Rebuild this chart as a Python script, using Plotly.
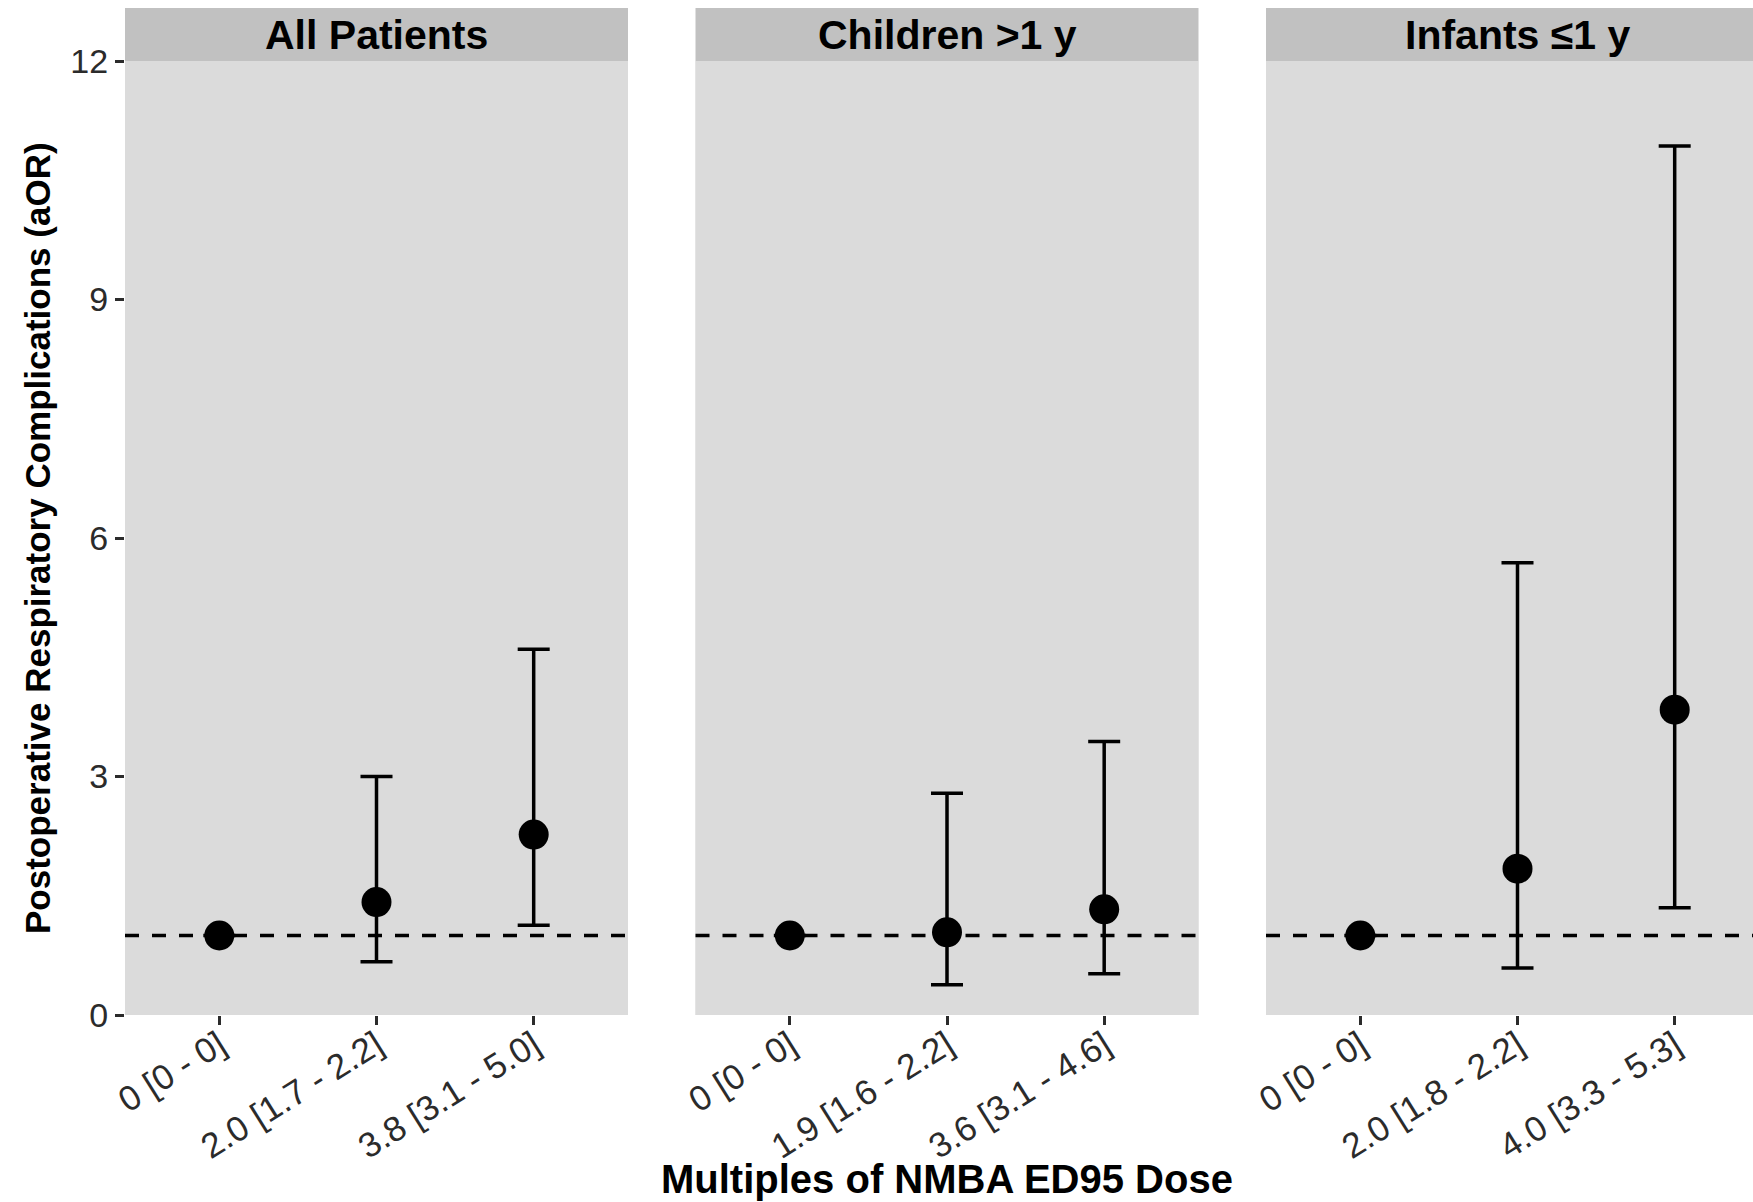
import plotly.graph_objects as go

# ---- data ----
panels = ["All Patients", "Children >1 y", "Infants \u22641 y"]
labels_all = ["0 [0 - 0]", "2.0 [1.7 - 2.2]", "3.8 [3.1 - 5.0]"]
labels_children = ["0 [0 - 0]", "1.9 [1.6 - 2.2]", "3.6 [3.1 - 4.6]"]
labels_infants = ["0 [0 - 0]", "2.0 [1.8 - 2.2]", "4.0 [3.3 - 5.3]"]

aor_all = [1.0, 1.42, 2.27]
lo_all = [1.0, 0.67, 1.13]
hi_all = [1.0, 3.00, 4.60]

aor_children = [1.0, 1.04, 1.33]
lo_children = [1.0, 0.38, 0.52]
hi_children = [1.0, 2.79, 3.44]

aor_infants = [1.0, 1.84, 3.84]
lo_infants = [1.0, 0.59, 1.35]
hi_infants = [1.0, 5.69, 10.93]

y_ticks = [0, 3, 6, 9, 12]
reference_line = 1.0

series = [
    (labels_all, aor_all, lo_all, hi_all),
    (labels_children, aor_children, lo_children, hi_children),
    (labels_infants, aor_infants, lo_infants, hi_infants),
]

# ---- layout geometry (pixels) ----
W, H = 1753, 1202
left, top, bottom_px = 125, 61, 1015
plot_w = W - left
plot_h = bottom_px - top
panel_w = 503
gap = 67.5
strip_h = 53

FONT = "Liberation Sans, Arial, sans-serif"
PANEL_BG = "#DBDBDB"
STRIP_BG = "#C1C1C1"
TICK_COL = "#2B2B2B"

fig = go.Figure()
shapes = []
annotations = []

for i, (labs, val, lo, hi) in enumerate(series):
    x0px = i * (panel_w + gap)
    x1px = min(x0px + panel_w, plot_w)
    dom = [x0px / plot_w, x1px / plot_w]
    ax = "" if i == 0 else str(i + 1)
    # visible range (third panel clipped at the page edge)
    unit = panel_w / 3.2
    xmax = -0.6 + (x1px - x0px) / unit

    fig.add_trace(go.Scatter(
        x=labs, y=val,
        mode="markers",
        marker=dict(color="black", size=30, symbol="circle"),
        error_y=dict(type="data", symmetric=False,
                     array=[h - v for h, v in zip(hi, val)],
                     arrayminus=[v - l for v, l in zip(val, lo)],
                     color="black", thickness=3.5, width=16),
        xaxis="x" + ax, yaxis="y" + ax,
        showlegend=False, hoverinfo="x+y",
    ))

    fig.update_layout(**{
        "xaxis" + ax: dict(
            domain=dom, anchor="y" + ax, type="category",
            range=[-0.6, xmax], showgrid=False, zeroline=False,
            ticks="outside", ticklen=9, tickwidth=2.5, tickcolor=TICK_COL,
            tickangle=-32, ticklabelstandoff=-14,
            tickfont=dict(family=FONT, size=35, color=TICK_COL),
            showline=False,
        ),
        "yaxis" + ax: dict(
            domain=[0, 1], anchor="x" + ax, range=[0, 12],
            tickvals=y_ticks, showgrid=False, zeroline=False,
            ticks="outside" if i == 0 else "", ticklen=9, tickwidth=2.5,
            tickcolor=TICK_COL, showticklabels=(i == 0),
            tickfont=dict(family=FONT, size=34, color=TICK_COL),
            showline=False,
        ),
    })

    # panel background
    shapes.append(dict(type="rect", xref="x" + ax + " domain", yref="y" + ax + " domain",
                       x0=0, x1=1, y0=0, y1=1, fillcolor=PANEL_BG,
                       line=dict(width=0), layer="below"))
    # strip
    shapes.append(dict(type="rect", xref="x" + ax + " domain", yref="paper",
                       x0=0, x1=1, y0=1, y1=1 + strip_h / plot_h,
                       fillcolor=STRIP_BG, line=dict(width=0), layer="above"))
    # dashed reference line
    shapes.append(dict(type="line", xref="x" + ax + " domain", yref="y" + ax,
                       x0=0, x1=1, y0=reference_line, y1=reference_line,
                       line=dict(color="black", width=3.5, dash="14px,13px"),
                       layer="above"))
    # strip label centred on full (unclipped) panel width
    cx = (x0px + panel_w / 2) / plot_w
    annotations.append(dict(text="<b>" + panels[i] + "</b>", xref="paper", yref="paper",
                            x=cx, y=1 + strip_h / 2 / plot_h, xanchor="center",
                            yanchor="middle", showarrow=False,
                            font=dict(family=FONT, size=41, color="black")))

# axis titles
total_w = 3 * panel_w + 2 * gap
annotations.append(dict(text="<b>Multiples of NMBA ED95 Dose</b>", xref="paper", yref="paper",
                        x=(total_w / 2) / plot_w, y=-(1179 - bottom_px) / plot_h,
                        xanchor="center", yanchor="middle", showarrow=False,
                        font=dict(family=FONT, size=40, color="black")))
annotations.append(dict(text="<b>Postoperative Respiratory Complications (aOR)</b>",
                        xref="paper", yref="paper", textangle=-90,
                        x=(37 - left) / plot_w, y=0.5, xanchor="center", yanchor="middle",
                        showarrow=False, font=dict(family=FONT, size=35, color="black")))

fig.update_layout(
    width=W, height=H,
    margin=dict(l=left, r=0, t=top, b=H - bottom_px, pad=0),
    paper_bgcolor="white", plot_bgcolor=PANEL_BG,
    shapes=shapes, annotations=annotations,
    font=dict(family=FONT),
)

fig.write_html("out.html", config={"displayModeBar": False})
